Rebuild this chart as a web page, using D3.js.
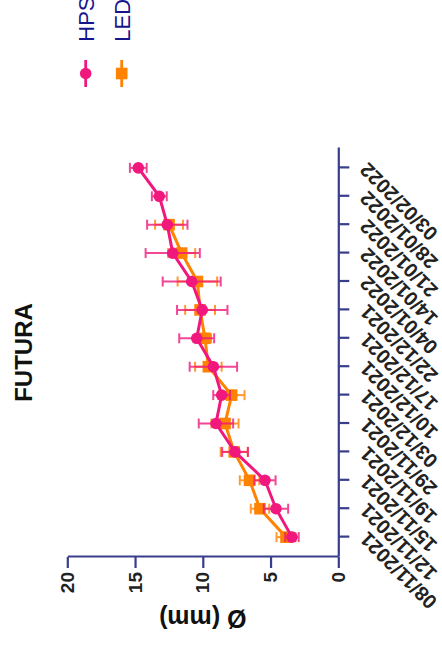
<!DOCTYPE html>
<html>
<head>
<meta charset="utf-8">
<script src="https://cdn.jsdelivr.net/npm/d3@7/dist/d3.min.js"></script>
<style>
  html, body { margin: 0; padding: 0; background: #ffffff; }
  svg { display: block; }
  text { font-family: "Liberation Sans", Arial, Helvetica, sans-serif; }
</style>
</head>
<body>
<svg id="chart" width="442" height="651"></svg>
<script>
// Sampling dates (category axis)
const dates = ["08/11/2021", "12/11/2021", "15/11/2021", "19/11/2021", "29/11/2021",
  "03/12/2021", "10/12/2021", "17/12/2021", "22/12/2021", "04/01/2022",
  "14/01/2022", "21/01/2022", "28/01/2022", "03/02/2022"];

// Mean stem diameter (mm) and error, HPS lighting
const hpsMean = [3.42, 4.6, 5.41, 7.62, 9.03, 8.61, 9.22, 10.45, 10.04, 10.82, 12.22, 12.62, 13.21, 14.76];
const hpsErr  = [0.5, 0.9, 0.78, 0.95, 1.27, 0.62, 1.75, 1.29, 1.86, 2.14, 2.0, 1.49, 0.55, 0.62];

// Mean stem diameter (mm) and error, LED lighting (no readings on the last two dates)
const ledMean = [3.86, 5.78, 6.55, 7.68, 8.36, 7.87, 9.59, 9.84, 10.2, 10.4, 11.56, 12.49, null, null];
const ledErr  = [0.7, 0.68, 0.72, 1.0, 1.0, 0.95, 0.98, 0.45, 1.1, 1.46, 1.0, 1.03, null, null];

const yTicks = [0, 5, 10, 15, 20];
const seriesNames = ["HPS", "LED"];

const W = 651, H = 442;           // chart drawn in its own frame, then turned a quarter
const axisColor = "#383d8c";
const colors = { HPS: "#f0187c", LED: "#ff8200" };

const svg = d3.select("#chart");
svg.append("rect").attr("width", 442).attr("height", 651).attr("fill", "#fff");

const g = svg.append("g").attr("transform", `translate(0,${W}) rotate(-90)`);

const x = d3.scalePoint().domain(dates).range([94, 503]).padding(0.7);
const y = d3.scaleLinear().domain([0, 20]).range([338.3, 67.3]);

// Value axis
const yAxis = g.append("g")
  .attr("transform", "translate(94,0)")
  .call(d3.axisLeft(y).tickValues(yTicks).tickSize(11).tickSizeOuter(0).tickPadding(4));
yAxis.select(".domain").attr("stroke", axisColor).attr("stroke-width", 2.2);
yAxis.selectAll(".tick line").attr("stroke", axisColor).attr("stroke-width", 2.2);
yAxis.selectAll(".tick text")
  .attr("fill", "#222").attr("font-size", 19).attr("font-weight", "bold");

// Date axis
const xAxis = g.append("g")
  .attr("transform", `translate(0,${y(0)})`)
  .call(d3.axisBottom(x).tickSize(11).tickSizeOuter(0));
xAxis.select(".domain").attr("stroke", axisColor).attr("stroke-width", 2.2);
xAxis.selectAll(".tick line").attr("stroke", axisColor).attr("stroke-width", 2.2);
xAxis.selectAll(".tick text")
  .attr("x", 0).attr("y", 0).attr("dy", 0)
  .attr("transform", "translate(6,30) rotate(-45)")
  .attr("text-anchor", "end")
  .attr("fill", "#222").attr("font-size", 20).attr("font-weight", "bold");

// Axis title
g.append("text")
  .attr("transform", `translate(41,${(y(0) + y(20)) / 2}) rotate(-90)`)
  .attr("text-anchor", "middle")
  .attr("font-size", 25).attr("font-weight", "bold").attr("fill", "#111")
  .text("Ø (mm)");

// Chart title
g.append("text")
  .attr("x", (94 + 503) / 2).attr("y", 32)
  .attr("text-anchor", "middle")
  .attr("font-size", 24).attr("font-weight", "bold").attr("fill", "#111")
  .text("FUTURA");

function drawSeries(name, mean, err, marker) {
  const c = colors[name];
  const pts = dates.map((d, i) => ({ d, v: mean[i], e: err[i] })).filter(p => p.v != null);
  const s = g.append("g");
  // error bars
  const eb = s.append("g").attr("stroke", c).attr("stroke-width", 2).attr("opacity", 0.8);
  pts.forEach(p => {
    const cx = x(p.d);
    eb.append("line").attr("x1", cx).attr("x2", cx).attr("y1", y(p.v - p.e)).attr("y2", y(p.v + p.e));
    eb.append("line").attr("x1", cx - 5).attr("x2", cx + 5).attr("y1", y(p.v - p.e)).attr("y2", y(p.v - p.e));
    eb.append("line").attr("x1", cx - 5).attr("x2", cx + 5).attr("y1", y(p.v + p.e)).attr("y2", y(p.v + p.e));
  });
  // connecting line
  s.append("path").datum(pts)
    .attr("fill", "none").attr("stroke", c).attr("stroke-width", 3)
    .attr("d", d3.line().x(p => x(p.d)).y(p => y(p.v)));
  // markers
  if (marker === "circle") {
    s.selectAll("circle").data(pts).join("circle")
      .attr("cx", p => x(p.d)).attr("cy", p => y(p.v)).attr("r", 5.8).attr("fill", c);
  } else {
    s.selectAll("rect.m").data(pts).join("rect").attr("class", "m")
      .attr("x", p => x(p.d) - 5.8).attr("y", p => y(p.v) - 5.8)
      .attr("width", 11.6).attr("height", 11.6).attr("fill", c);
  }
}

drawSeries("LED", ledMean, ledErr, "square");
drawSeries("HPS", hpsMean, hpsErr, "circle");

// Legend
const legend = g.append("g");
seriesNames.forEach((name, i) => {
  const ly = 85.7 + i * 36;
  const c = colors[name];
  legend.append("line").attr("x1", 564).attr("x2", 591).attr("y1", ly).attr("y2", ly)
    .attr("stroke", c).attr("stroke-width", 2.8);
  if (name === "HPS") {
    legend.append("circle").attr("cx", 577.5).attr("cy", ly).attr("r", 5.8).attr("fill", c);
  } else {
    legend.append("rect").attr("x", 577.5 - 5.8).attr("y", ly - 5.8)
      .attr("width", 11.6).attr("height", 11.6).attr("fill", c);
  }
  legend.append("text").attr("x", 609.3).attr("y", ly + 7.8)
    .attr("font-size", 22).attr("fill", "#16168a").text(name);
});
</script>
</body>
</html>
